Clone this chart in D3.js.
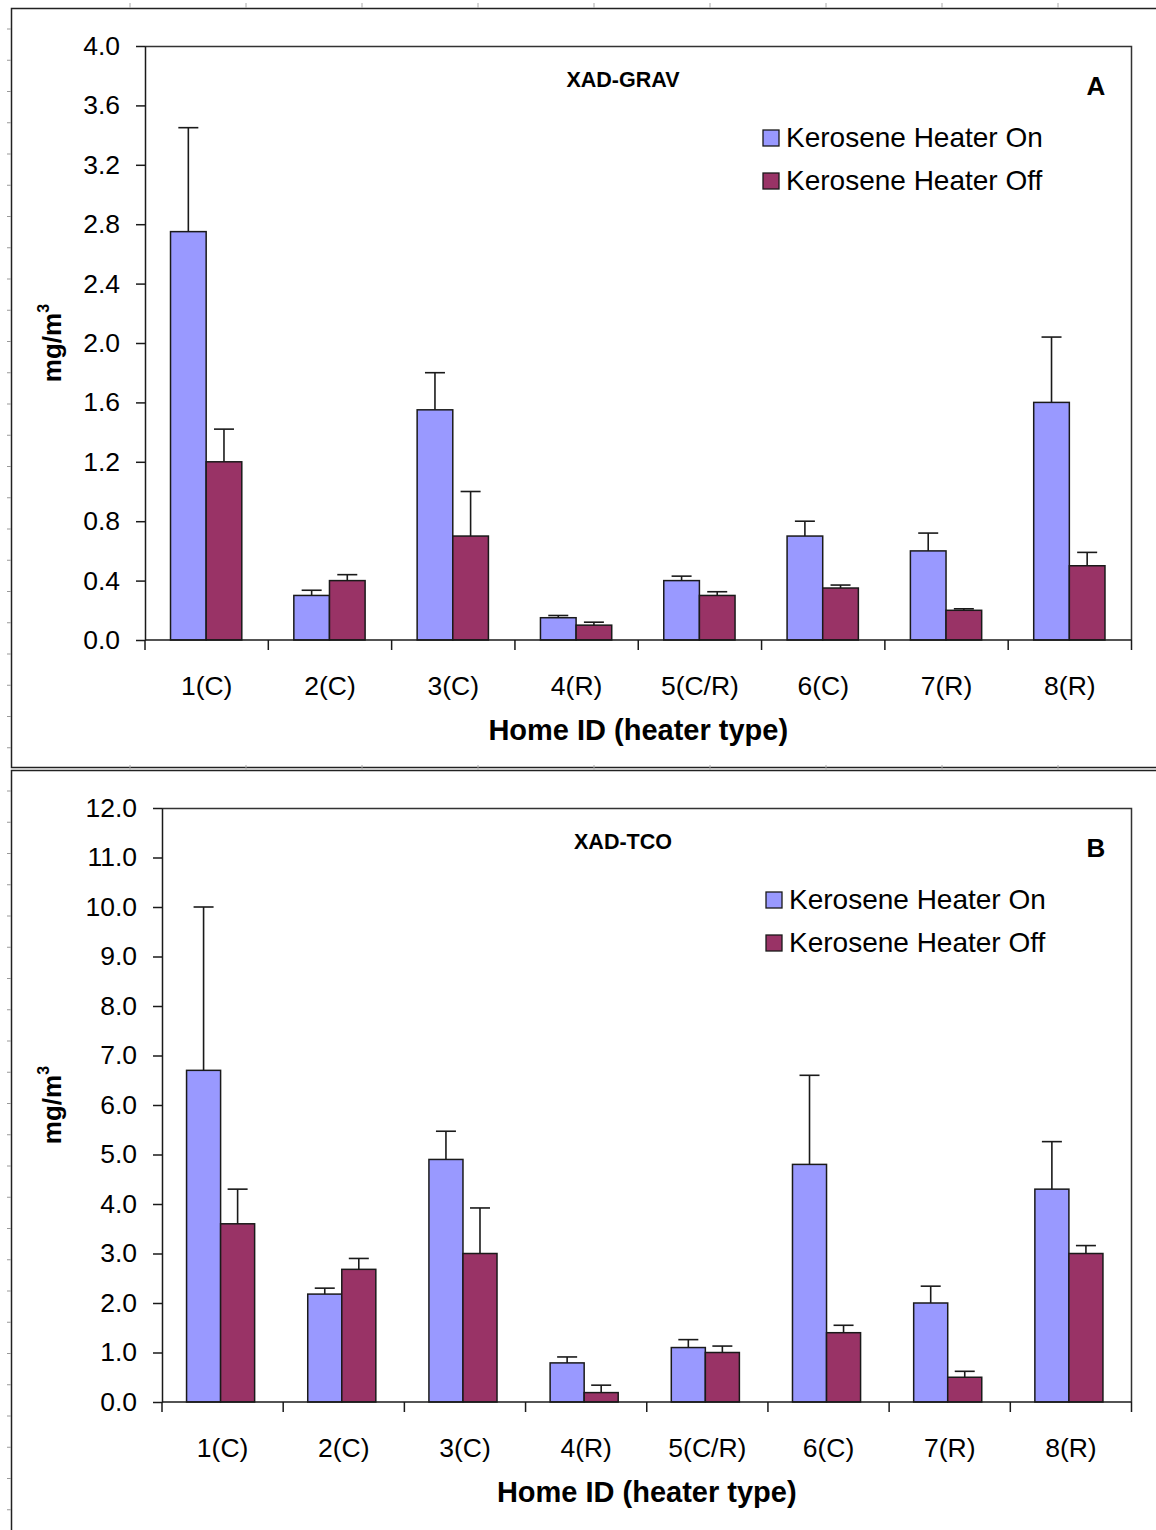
<!DOCTYPE html>
<html>
<head>
<meta charset="utf-8">
<script src="https://cdn.jsdelivr.net/npm/d3@7"></script>
<style>
  html, body { margin: 0; padding: 0; background: #fff; }
  svg { display: block; font-family: "Liberation Sans", Arial, sans-serif; }
</style>
</head>
<body>
<svg id="chart" width="1156" height="1530"></svg>
<script>
// ---------- data ----------
const categories = ["1(C)", "2(C)", "3(C)", "4(R)", "5(C/R)", "6(C)", "7(R)", "8(R)"];
const seriesNames = ["Kerosene Heater On", "Kerosene Heater Off"];

// Panel A: XAD-GRAV (mg/m3)
const gravOn     = [2.75, 0.30, 1.55, 0.15, 0.40, 0.70, 0.60, 1.60];
const gravOnErr  = [0.70, 0.035, 0.25, 0.015, 0.03, 0.10, 0.12, 0.44];
const gravOff    = [1.20, 0.40, 0.70, 0.10, 0.30, 0.35, 0.20, 0.50];
const gravOffErr = [0.22, 0.04, 0.30, 0.02, 0.025, 0.02, 0.01, 0.09];
const gravTicks  = [0.0, 0.4, 0.8, 1.2, 1.6, 2.0, 2.4, 2.8, 3.2, 3.6, 4.0];

// Panel B: XAD-TCO (mg/m3)
const tcoOn     = [6.70, 2.18, 4.90, 0.79, 1.10, 4.80, 2.00, 4.30];
const tcoOnErr  = [3.30, 0.12, 0.57, 0.12, 0.16, 1.80, 0.34, 0.96];
const tcoOff    = [3.60, 2.68, 3.00, 0.19, 1.00, 1.40, 0.50, 3.00];
const tcoOffErr = [0.70, 0.22, 0.92, 0.15, 0.13, 0.15, 0.12, 0.16];
const tcoTicks  = [0, 1, 2, 3, 4, 5, 6, 7, 8, 9, 10, 11, 12];

const colors = ["#9999FF", "#993366"];

// ---------- drawing ----------
const svg = d3.select("#chart");
const INK = "#1a1a1a";

// outer document frames with ruler-like marks
function frame(y0, y1) {
  svg.append("rect").attr("x", 11.5).attr("y", y0 + 0.5)
    .attr("width", 1300).attr("height", y1 - y0)
    .attr("fill", "none").attr("stroke", "#222").attr("stroke-width", 1.5);
  d3.range(130, 1156, 116).forEach(x => {
    svg.append("line").attr("x1", x).attr("x2", x).attr("y1", y0 - 5).attr("y2", y0)
      .attr("stroke", "#aaa").attr("stroke-width", 1);
  });
  d3.range(y0 + 21, Math.min(y1, 1530), 31.25).forEach(y => {
    svg.append("line").attr("x1", 7).attr("x2", 11).attr("y1", y).attr("y2", y)
      .attr("stroke", "#999").attr("stroke-width", 1);
  });
}
frame(8, 767);
frame(770, 1600);

function panel(cfg) {
  const { left, right, top, bottom, domain, ticks, fmt, on, onErr, off, offErr,
          title, letter, outerPad, shift, legendX, legendY } = cfg;
  const g = svg.append("g");

  const y = d3.scaleLinear().domain(domain).range([bottom, top]);
  const x0 = d3.scaleBand().domain(categories).range([left, right]).padding(0);
  const x1 = d3.scaleBand().domain([0, 1]).range([shift, x0.bandwidth() + shift])
    .paddingInner(0).paddingOuter(outerPad);

  // plot area frame (top & right)
  g.append("path")
    .attr("d", `M${left},${top + 0.5}H${right}V${bottom}`)
    .attr("fill", "none").attr("stroke", "#333").attr("stroke-width", 1.5);

  // bars
  const seriesVals = [on, off];
  const seriesErr = [onErr, offErr];
  seriesVals.forEach((vals, si) => {
    g.append("g").selectAll("rect").data(categories).join("rect")
      .attr("x", (c) => x0(c) + x1(si))
      .attr("y", (c, i) => y(vals[i]))
      .attr("width", x1.bandwidth())
      .attr("height", (c, i) => y(0) - y(vals[i]))
      .attr("fill", colors[si])
      .attr("stroke", INK).attr("stroke-width", 1.5);
  });

  // error bars (upper only)
  seriesVals.forEach((vals, si) => {
    const eg = g.append("g").attr("stroke", INK).attr("stroke-width", 1.6);
    categories.forEach((c, i) => {
      const cx = x0(c) + x1(si) + x1.bandwidth() / 2;
      const yt = y(vals[i] + seriesErr[si][i]);
      eg.append("line").attr("x1", cx).attr("x2", cx).attr("y1", y(vals[i])).attr("y2", yt);
      eg.append("line").attr("x1", cx - 10).attr("x2", cx + 10).attr("y1", yt).attr("y2", yt);
    });
  });

  // y axis
  const yAxis = g.append("g").attr("transform", `translate(${left},0)`)
    .call(d3.axisLeft(y).tickValues(ticks).tickFormat(fmt).tickSize(9).tickSizeOuter(0).tickPadding(16));
  yAxis.selectAll("path, line").attr("stroke", INK).attr("stroke-width", 1.5);
  yAxis.selectAll("text").attr("font-size", 26.5).attr("fill", "#000")
    .attr("font-family", '"Liberation Sans", Arial, sans-serif');

  // x axis: labels at centres, ticks at boundaries
  const xAxis = g.append("g").attr("transform", `translate(0,${bottom})`)
    .call(d3.axisBottom(x0).tickSize(0).tickPadding(36));
  xAxis.select("path").attr("d", `M${left},0H${right}`).attr("stroke", INK).attr("stroke-width", 1.5);
  xAxis.selectAll("text").attr("font-size", 26.5).attr("fill", "#000")
    .attr("font-family", '"Liberation Sans", Arial, sans-serif');
  const bounds = categories.map(c => x0(c)).concat([right]);
  xAxis.append("g").selectAll("line").data(bounds).join("line")
    .attr("x1", d => d).attr("x2", d => d).attr("y1", 0).attr("y2", 10)
    .attr("stroke", INK).attr("stroke-width", 1.5);

  // axis titles
  g.append("text").attr("x", (left + right) / 2).attr("y", bottom + 100)
    .attr("text-anchor", "middle").attr("font-size", 29).attr("font-weight", "bold")
    .text("Home ID (heater type)");
  const yt = g.append("text")
    .attr("transform", `translate(61,${(top + bottom) / 2}) rotate(-90)`)
    .attr("text-anchor", "middle").attr("font-size", 26).attr("font-weight", "bold");
  yt.append("tspan").text("mg/m");
  yt.append("tspan").attr("font-size", 16).attr("dy", -12).text("3");

  // inner title and panel letter
  g.append("text").attr("x", 623).attr("y", top + 41)
    .attr("text-anchor", "middle").attr("font-size", 21.5).attr("font-weight", "bold")
    .text(title);
  g.append("text").attr("x", 1096).attr("y", top + 49)
    .attr("text-anchor", "middle").attr("font-size", 26).attr("font-weight", "bold")
    .text(letter);

  // legend
  seriesNames.forEach((name, si) => {
    const by = legendY + si * 43;
    g.append("rect").attr("x", legendX).attr("y", by - 17).attr("width", 16).attr("height", 16)
      .attr("fill", colors[si]).attr("stroke", INK).attr("stroke-width", 1.3);
    g.append("text").attr("x", legendX + 23).attr("y", by)
      .attr("font-size", 28).attr("fill", "#000").text(name);
  });
}

panel({
  left: 145, right: 1131.5, top: 46, bottom: 640,
  domain: [0, 4], ticks: gravTicks, fmt: d3.format(".1f"),
  on: gravOn, onErr: gravOnErr, off: gravOff, offErr: gravOffErr,
  title: "XAD-GRAV", letter: "A", outerPad: 0.73, shift: -0.5, legendX: 763, legendY: 147
});

panel({
  left: 162, right: 1131.5, top: 808, bottom: 1402,
  domain: [0, 12], ticks: tcoTicks, fmt: d3.format(".1f"),
  on: tcoOn, onErr: tcoOnErr, off: tcoOff, offErr: tcoOffErr,
  title: "XAD-TCO", letter: "B", outerPad: 0.78, shift: -2, legendX: 766, legendY: 909
});
</script>
</body>
</html>
